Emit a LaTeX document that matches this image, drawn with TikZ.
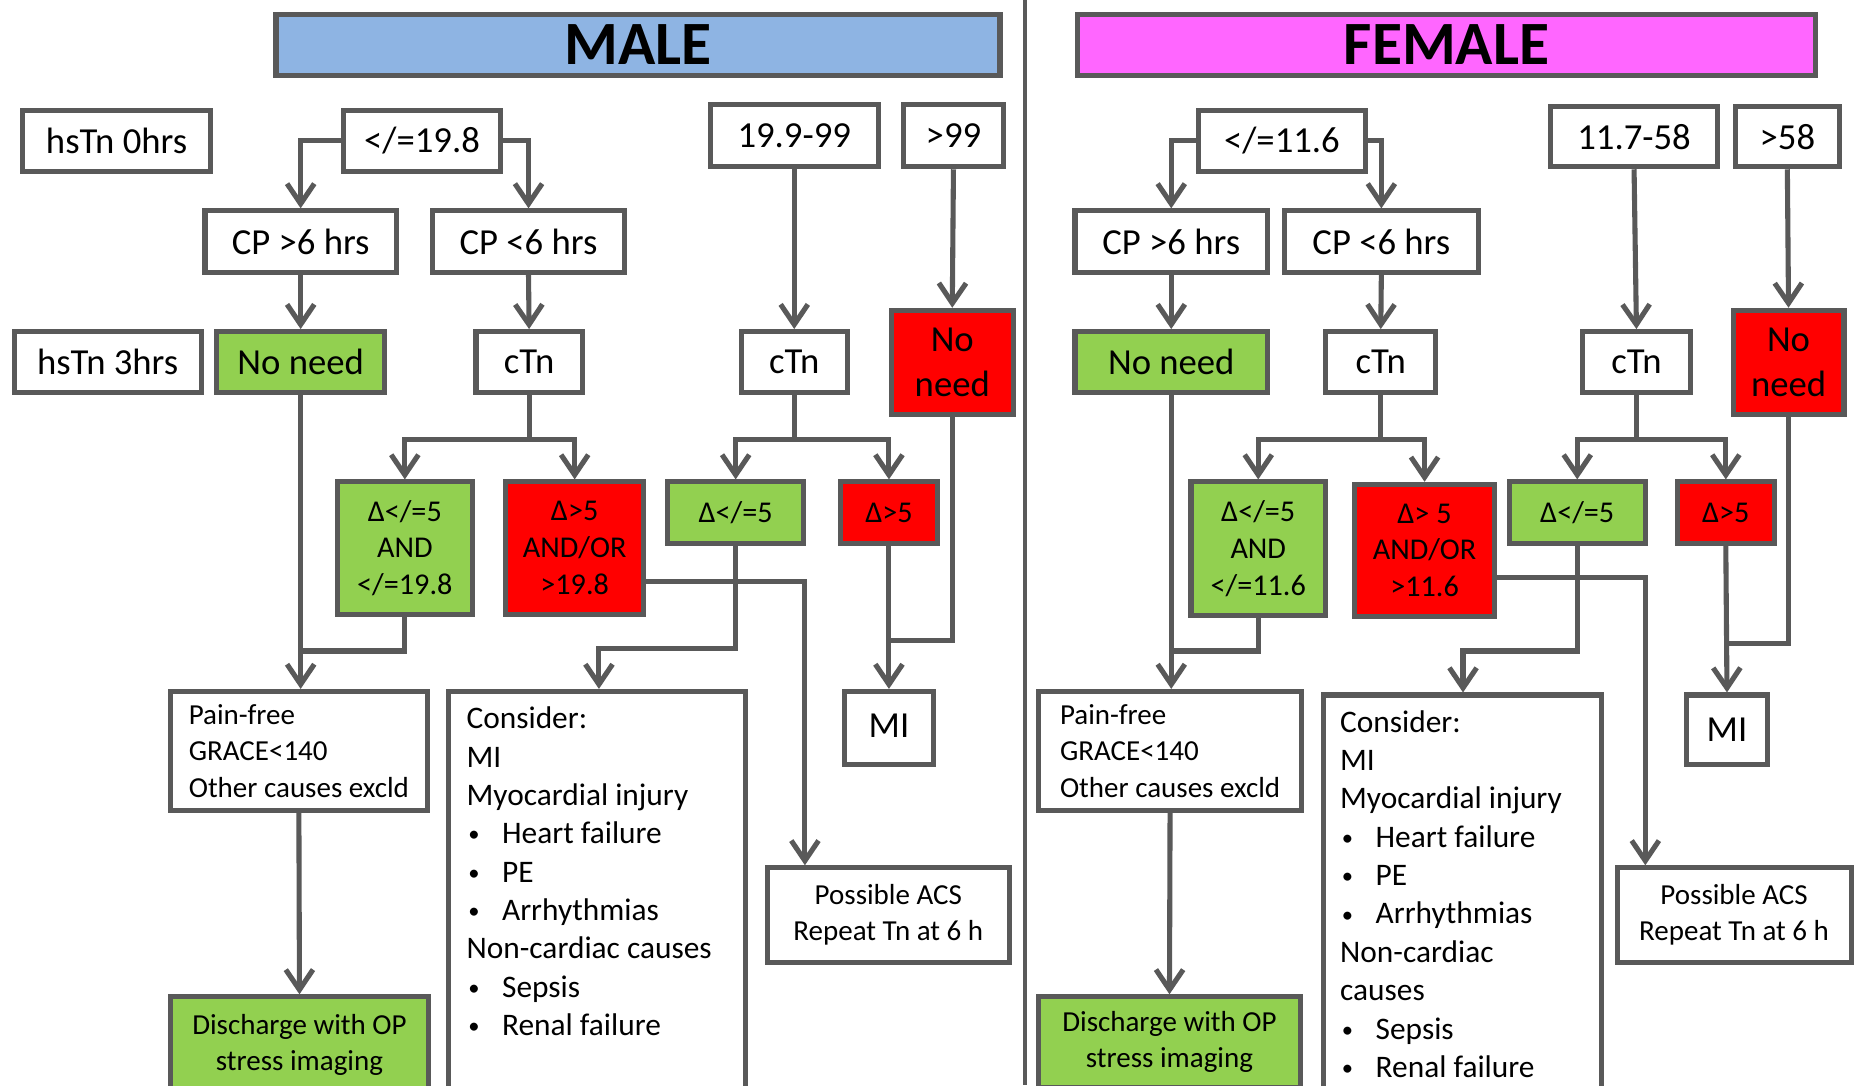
\documentclass[tikz,border=0pt]{standalone}
\usepackage{fontspec}
\setmainfont{Carlito}
\usetikzlibrary{arrows.meta}
\definecolor{lc}{HTML}{595959}
\definecolor{gfill}{HTML}{92D050}
\definecolor{rfill}{HTML}{FF0000}
\definecolor{bfill}{HTML}{8EB4E3}
\definecolor{mfill}{HTML}{FF66FF}
\newcommand\fsz[2]{\fontsize{#1}{#2}\selectfont}
\newcommand\bx[7]{\node[#6, minimum width={#4-#2-4.3}, minimum height={#5-#3-4.3}] (#1) at ({(#2+#4)/2},{(#3+#5)/2}) {#7};}
\newcommand\bul{\makebox[30pt][l]{\hspace{1.5pt}\raisebox{1.5pt}{\scalebox{0.72}{•}}}}
\begin{document}
\begin{tikzpicture}[x=1pt,y=-1pt,
  box/.style={draw=lc, line width=4.3pt, fill=white, inner sep=0pt, align=center, font=\fsz{31}{38}},
  dbox/.style={box, font=\fsz{25.5}{31}},
  sbox/.style={box, font=\fsz{24.5}{30.5}},
  hbox/.style={box, font=\bfseries\fsz{52}{60}},
  ctext/.style={inner sep=0pt, align=left, anchor=north west, font=\fsz{26.5}{32.4}},
  conn/.style={draw=lc, line width=4.3pt},
  arr/.style={conn, -{Straight Barb[length=17pt,width=23pt]}}]
\useasboundingbox (0,0) rectangle (1568,917);
\clip (0,0) rectangle (1568,917);
\fill[white] (0,0) rectangle (1568,917);
% divider
\coordinate (dtop) at (866,0);
\coordinate (dbot) at (866,917);
\draw[draw=lc, line width=3pt] (dtop) -- (dbot);
% ================= MALE =================
\bx{mhead}{231}{10}{847}{66}{hbox,fill=bfill}{MALE}
\bx{m0}{17}{91}{180}{147}{box}{hsTn 0hrs}
\bx{m198}{288}{91}{425}{147}{box}{</=19.8}
\bx{m199}{598}{86}{744}{143}{box}{19.9-99}
\bx{m99}{761}{86}{850}{143}{box}{>99}
\bx{mcpa}{171}{176}{337}{232}{box}{CP >6 hrs}
\bx{mcpb}{363}{176}{530}{232}{box}{CP <6 hrs}
\bx{m3}{10}{278}{172}{334}{box}{hsTn 3hrs}
\bx{mng}{181}{278}{327}{334}{box,fill=gfill}{No need}
\bx{mctna}{400}{278}{494}{334}{box}{cTn}
\bx{mctnb}{624}{278}{718}{334}{box}{cTn}
\bx{mnr}{751}{260}{858}{352}{box,fill=rfill}{No\\need}
\bx{mda}{283}{405}{401}{521}{dbox,fill=gfill}{Δ</=5\\AND\\</=19.8}
\bx{mdb}{425}{405}{546}{521}{dbox,fill=rfill}{Δ>5\\AND/OR\\>19.8}
\bx{mdc}{562}{405}{681}{461}{dbox,fill=gfill}{Δ</=5}
\bx{mdd}{708}{405}{794}{461}{dbox,fill=rfill}{Δ>5}
\bx{mpain}{142}{582}{363}{687}{sbox,align=left}{Pain-free\\GRACE<140\\Other causes excld}
\bx{mcons}{377}{582}{632}{940}{box}{}
\node[ctext] (mconsT) at (394,597) {Consider:\\MI\\Myocardial injury\\\bul Heart failure\\\bul PE\\\bul Arrhythmias\\Non-cardiac causes\\\bul Sepsis\\\bul Renal failure};
\bx{mmi}{711}{582}{791}{648}{box}{\raisebox{3pt}{MI}}
\bx{macs}{646}{731}{855}{815}{sbox}{Possible ACS\\Repeat Tn at 6 h}
\bx{mdis}{142}{840}{364}{925}{sbox,fill=gfill}{Discharge with OP\\stress imaging}
% male connectors
\draw[arr] (m198.west) -| (mcpa.north);
\draw[arr] (m198.east) -| (mcpb.north);
\draw[arr] (mcpa.south) -- (mng.north);
\draw[arr] (mcpb.south) -- (mctna.north);
\draw[arr] (m199.south) -- (mctnb.north);
\draw[arr] (m99.south) -- (mnr.north);
\coordinate (mj1) at (mctna.south |- 0,371);
\draw[arr] (mctna.south) -- (mj1) -| (mda.north);
\draw[arr] (mj1) -| (mdb.north);
\coordinate (mk1) at (mctnb.south |- 0,371);
\draw[arr] (mctnb.south) -- (mk1) -| (mdc.north);
\draw[arr] (mk1) -| (mdd.north);
\draw[arr] (mng.south) -- (mng.south |- mpain.north);
\coordinate (mj2) at (mng.south |- 0,550);
\draw[conn] (mda.south) |- (mj2);
\coordinate (mj3) at (506,548);
\draw[arr] (mdc.south) |- (mj3) -- (mj3 |- mcons.north);
\coordinate (mj4) at (680,491);
\draw[arr] (mdb.east |- mj4) -- (mj4) -- (mj4 |- macs.north);
\draw[arr] (mdd.south) -- (mmi.north);
\coordinate (mj5) at (mdd.south |- 0,541);
\draw[conn] (mnr.south) |- (mj5);
\draw[arr] (mpain.south) -- (mdis.north);
% ================= FEMALE =================
\bx{fhead}{908}{10}{1536}{66}{hbox,fill=mfill}{FEMALE}
\bx{f116}{1010}{91}{1156}{147}{box}{</=11.6}
\bx{f117}{1308}{88}{1453}{143}{box}{11.7-58}
\bx{f58}{1464}{88}{1556}{143}{box}{>58}
\bx{fcpa}{906}{176}{1073}{232}{box}{CP >6 hrs}
\bx{fcpb}{1083}{176}{1251}{232}{box}{CP <6 hrs}
\bx{fng}{906}{278}{1073}{334}{box,fill=gfill}{No need}
\bx{fctna}{1118}{278}{1215}{334}{box}{cTn}
\bx{fctnb}{1335}{278}{1430}{334}{box}{cTn}
\bx{fnr}{1462}{260}{1560}{352}{box,fill=rfill}{No\\need}
\bx{fda}{1004}{405}{1122}{522}{dbox,fill=gfill}{Δ</=5\\AND\\</=11.6}
\bx{fdb}{1142}{407}{1265}{523}{dbox,fill=rfill}{Δ> 5\\AND/OR\\>11.6}
\bx{fdc}{1273}{405}{1392}{461}{dbox,fill=gfill}{Δ</=5}
\bx{fdd}{1415}{405}{1501}{461}{dbox,fill=rfill}{Δ>5}
\bx{fpain}{875}{582}{1102}{687}{sbox,align=left}{Pain-free\\GRACE<140\\Other causes excld}
\bx{fcons}{1116}{585}{1355}{940}{box}{}
\node[ctext] (fconsT) at (1132,600) {Consider:\\MI\\Myocardial injury\\\bul Heart failure\\\bul PE\\\bul Arrhythmias\\Non-cardiac\\causes\\\bul Sepsis\\\bul Renal failure};
\bx{fmi}{1423}{585}{1495}{648}{box}{MI}
\bx{facs}{1364}{731}{1566}{815}{sbox}{Possible ACS\\Repeat Tn at 6 h}
\bx{fdis}{875}{840}{1101}{921}{sbox,fill=gfill}{Discharge with OP\\stress imaging}
% female connectors
\draw[arr] (f116.west) -| (fcpa.north);
\draw[arr] (f116.east) -| (fcpb.north);
\draw[arr] (fcpa.south) -- (fng.north);
\draw[arr] (fcpb.south) -- (fctna.north);
\draw[arr] (f117.south) -- (fctnb.north);
\draw[arr] (f58.south) -- (fnr.north);
\coordinate (fj1) at (fctna.south |- 0,371);
\draw[arr] (fctna.south) -- (fj1) -| (fda.north);
\draw[arr] (fj1) -| (fdb.north);
\coordinate (fk1) at (fctnb.south |- 0,371);
\draw[arr] (fctnb.south) -- (fk1) -| (fdc.north);
\draw[arr] (fk1) -| (fdd.north);
\draw[arr] (fng.south) -- (fng.south |- fpain.north);
\coordinate (fj2) at (fng.south |- 0,550);
\draw[conn] (fda.south) |- (fj2);
\coordinate (fj3) at (1236,550);
\draw[arr] (fdc.south) |- (fj3) -- (fj3 |- fcons.north);
\coordinate (fj4) at (1390,488);
\draw[arr] (fdb.east |- fj4) -- (fj4) -- (fj4 |- facs.north);
\draw[arr] (fdd.south) -- (fmi.north);
\coordinate (fj5) at (fdd.south |- 0,544);
\draw[conn] (fnr.south) |- (fj5);
\draw[arr] (fpain.south) -- (fdis.north);
\end{tikzpicture}
\end{document}
